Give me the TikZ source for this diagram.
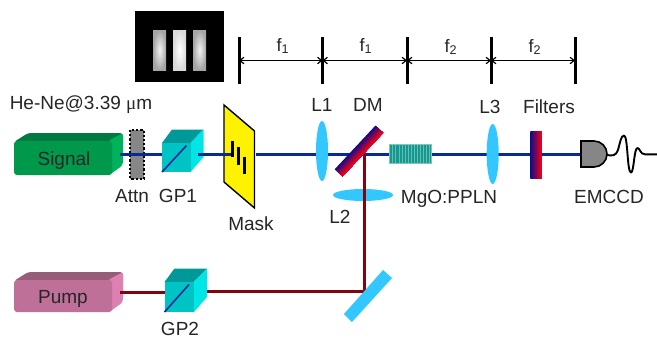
\documentclass[tikz,border=0pt]{standalone}
\usepackage{fontspec}
\setmainfont{Liberation Sans}
\newfontfamily\symfont{Liberation Serif}
\usetikzlibrary{arrows.meta,shapes.geometric}
\definecolor{sigbeam}{rgb}{0.03,0.16,0.60}
\definecolor{pumpbeam}{rgb}{0.50,0.02,0.05}
\definecolor{lensblue}{rgb}{0.20,0.78,1.00}
\definecolor{cubeF}{rgb}{0.00,0.77,0.77}
\definecolor{cubeT}{rgb}{0.00,0.60,0.60}
\definecolor{cubeR}{rgb}{0.00,0.90,0.90}
\definecolor{sigF}{rgb}{0.00,0.60,0.30}
\definecolor{sigT}{rgb}{0.00,0.48,0.25}
\definecolor{sigR}{rgb}{0.00,0.70,0.36}
\definecolor{pumpF}{rgb}{0.75,0.44,0.60}
\definecolor{pumpT}{rgb}{0.59,0.36,0.47}
\definecolor{pumpR}{rgb}{0.87,0.50,0.70}
\definecolor{xtal}{rgb}{0.08,0.60,0.56}
\definecolor{gradB}{rgb}{0.05,0.05,0.55}
\definecolor{gradR}{rgb}{1.00,0.00,0.05}
\tikzset{
  x=1pt,y=-1pt,
  lab/.style={font=\fontsize{19}{20}\selectfont,text=black!85,inner sep=0pt},
  flab/.style={font=\fontsize{18}{19}\selectfont,text=black!85,inner sep=0pt},
  sigline/.style={draw=sigbeam,line width=3pt},
  pumpline/.style={draw=pumpbeam,line width=3pt},
  lens/.style={ellipse,fill=lensblue,draw=none,inner sep=0pt},
  tick/.style={draw=black,line width=3pt},
  dim/.style={draw=black,line width=1.2pt,{Straight Barb[length=4pt,width=6.5pt]}-{Straight Barb[length=4pt,width=6.5pt]}},
  gradplate/.style={draw=none,inner sep=0pt,left color=gradB,right color=gradR,middle color=gradB!50!gradR},
  bar/.style={draw=none},
}
\newcommand{\laserbox}[3]{% top y of front, bottom y of front, base colour prefix
  \fill[#3T,rounded corners=3pt] (14,#1+1) -- (28,#1-8) -- (123,#1-8) -- (123,#1+6) -- (112,#1+4) -- cycle;
  \fill[#3R,rounded corners=3pt] (108,#1) -- (123,#1-8) -- (123,#2-10) -- (108,#2+1) -- cycle;
  \fill[#3F,rounded corners=3pt] (14,#1) rectangle (112,#2);
}
\newcommand{\cube}[4]{% x0, x1 front; y0, y1 front
  \fill[cubeT] (#1,#3) -- ({#1+10},{#3-13.5}) -- ({#2+13},{#3-13.5}) -- (#2,#3) -- cycle;
  \fill[cubeR] (#2,#3) -- ({#2+13},{#3-13.5}) -- ({#2+13},{#4-15}) -- (#2,#4) -- cycle;
  \fill[cubeF] (#1,#3) rectangle (#2,#4);
  \draw[sigbeam,line width=1.6pt] (#1,#4) -- ({#1+24.5},{#3+2.5});
}
\begin{document}
\begin{tikzpicture}
\useasboundingbox (0,0) rectangle (657,338);
\fill[white] (0,0) rectangle (657,338);

% fringe image
\fill[black] (135,11) rectangle (224,82);
\shade[bar,inner color=gray!10,outer color=gray!70] (153,30) rectangle (166,70);
\shade[bar,inner color=white,outer color=gray!30] (173,30) rectangle (186,70);
\shade[bar,inner color=gray!10,outer color=gray!70] (193,30) rectangle (206,70);

% focal scale
\coordinate (t1a) at (239,37); \coordinate (t1b) at (239,84);
\coordinate (t2a) at (322.5,37); \coordinate (t2b) at (322.5,84);
\coordinate (t3a) at (407,37); \coordinate (t3b) at (407,84);
\coordinate (t4a) at (491,37); \coordinate (t4b) at (491,84);
\coordinate (t5a) at (575,37); \coordinate (t5b) at (575,84);
\coordinate (d1) at (239,60.5); \coordinate (d2) at (322.5,60.5);
\coordinate (d3) at (407,60.5); \coordinate (d4) at (491,60.5); \coordinate (d5) at (575,60.5);
\draw[tick] (t1a) -- (t1b); \draw[tick] (t2a) -- (t2b); \draw[tick] (t3a) -- (t3b);
\draw[tick] (t4a) -- (t4b); \draw[tick] (t5a) -- (t5b);
\draw[dim] (d1) -- (d2); \draw[dim] (d2) -- (d3); \draw[dim] (d3) -- (d4); \draw[dim] (d4) -- (d5);
\node[flab] (f1a) at (283,46) {f\textsubscript{1}};
\node[flab] (f1b) at (366,46) {f\textsubscript{1}};
\node[flab] (f2a) at (451,47) {f\textsubscript{2}};
\node[flab] (f2b) at (535,47) {f\textsubscript{2}};

% lasers
\laserbox{141}{175}{sig}
\laserbox{280}{312}{pump}
\node[lab] (signal) at (64,161) {Signal};
\node[lab] (pump) at (63,299) {Pump};

% attenuator
\fill[gray!95] (130,130) rectangle (144,179);
\draw[black,line width=2.2pt,dash pattern=on 2.2pt off 2pt] (130,130) rectangle (144,179);

% coordinates of the beam
\coordinate (sA) at (120,154); \coordinate (sB) at (162,154);
\coordinate (sC) at (198,154); \coordinate (sD) at (232,154);
\coordinate (sE) at (256,154); \coordinate (sF) at (581,154);
\coordinate (pA) at (120,292); \coordinate (pB) at (165,292);
\coordinate (pC) at (197,291.5); \coordinate (pD) at (364,291.5);
\coordinate (pE) at (364,154);

% cube 1
\cube{162}{190.5}{143}{172}

% mask
\fill[yellow,draw=black,line width=1.4pt] (224,105) -- (254.5,131) -- (254.5,208) -- (224,182) -- cycle;
\draw[sigline] (sA) -- (sB);
\draw[sigline] (sC) -- (sD);
\draw[sigline] (sE) -- (sF);
\draw[black,line width=2.8pt] (232.7,140.5) -- (232.7,157);
\draw[black,line width=2.8pt] (238.7,147) -- (238.7,165);
\draw[black,line width=2.8pt] (244.5,157) -- (244.5,174);

% pump beam
\node[lens,minimum width=60pt,minimum height=12pt] (L2) at (363,195) {};
\draw[pumpline] (pE) -- (pD);
\draw[pumpline] (pA) -- (pB);
\draw[pumpline] (pC) -- (pD);

% cube 2
\cube{164.5}{194}{282}{312}

% turning mirror
\fill[lensblue] (383,270) -- (392,278) -- (352,322) -- (344,314) -- cycle;

% lenses
\node[lens,minimum width=12pt,minimum height=60pt] (L1) at (322,151) {};
\node[lens,minimum width=12pt,minimum height=60pt] (L3) at (492.7,154) {};

% dichroic mirror, graded across its thickness
\coordinate (DM) at (359,151);
\begin{scope}[shift={(DM)},rotate=-43]
  \foreach \i in {0,...,20}{
    \pgfmathsetmacro{\mixp}{100-\i*5}
    \pgfmathsetmacro{\xl}{-5.3+\i*0.53}
    \fill[gradB!\mixp!gradR] (\xl,-29.8) rectangle (5.3,29.8);
  }
\end{scope}

% crystal
\fill[xtal,draw=xtal!55!white,line width=0.8pt] (389,144.3) rectangle (431.7,163.3);
\foreach \sx/\sw in {392/0.7,395/0.5,398.5/0.8,402/0.5,405/0.9,408/0.5,411/0.9,414/0.6,417/1.0,420/0.6,423/1.0,426/0.7,428.5/0.9}{
  \fill[xtal!65!white] (\sx,145) rectangle ({\sx+\sw},162.6);
}

% filters
\node[gradplate,minimum width=11.5pt,minimum height=47pt] (filt) at (536,154.5) {};

% detector
\fill[gray!95,draw=black,line width=1.6pt] (581,141) -- (594,141) arc[start angle=-90,end angle=90,radius=13] -- (581,167) -- cycle;
\coordinate (detR) at (607,155);
\coordinate (wEnd) at (657,154.3);
\draw[black,line width=1.9pt,line join=round] (detR)
  .. controls (612,156) and (616,156) .. (618,150)
  .. controls (620,143) and (621,135.5) .. (624,135.5)
  .. controls (628,135.5) and (627,172.5) .. (631,172.5)
  .. controls (634,172.5) and (634,148) .. (637.5,148)
  .. controls (640,148) and (640,154.3) .. (645,154.3)
  -- (wEnd);

% labels
\node[lab] (heNe) at (81,105) {He-Ne@3.39 {\symfont μ}m};
\node[lab] (lL1) at (322,105) {L1};
\node[lab] (lDM) at (368,105) {DM};
\node[lab] (lL3) at (490,107) {L3};
\node[lab] (lFilt) at (549,107) {Filters};
\node[lab] (lAttn) at (132,196) {Attn};
\node[lab] (lGP1) at (178,196) {GP1};
\node[lab] (lMask) at (251,224) {Mask};
\node[lab] (lXtal) at (449,198.5) {MgO:PPLN};
\node[lab] (lCCD) at (609,197) {EMCCD};
\node[lab] (lL2) at (340,217) {L2};
\node[lab] (lGP2) at (180,328.5) {GP2};
\end{tikzpicture}
\end{document}
